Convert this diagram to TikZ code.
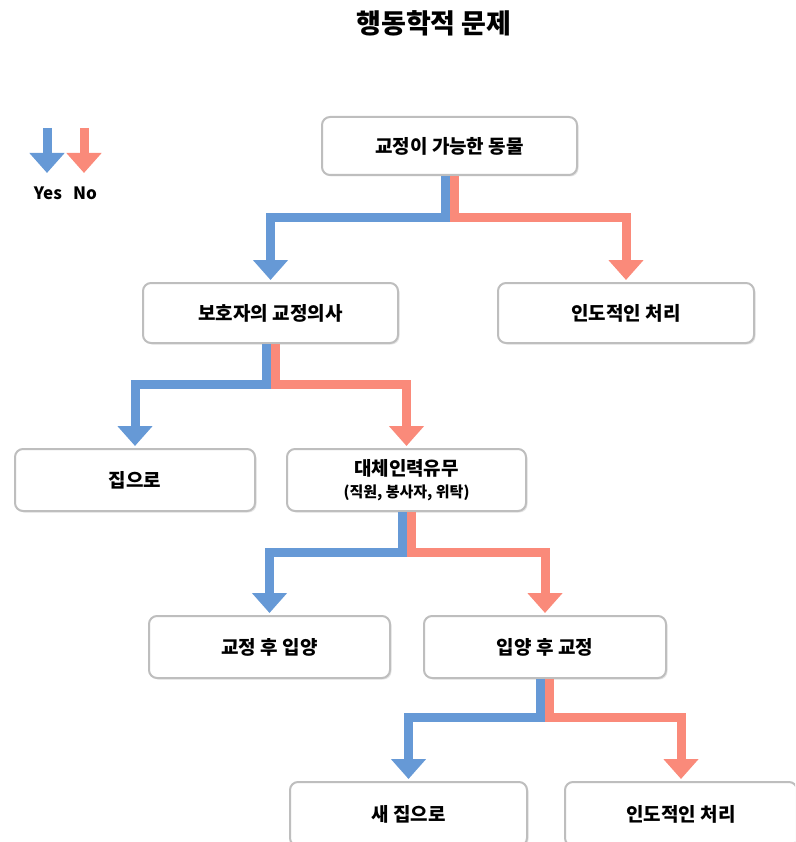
\documentclass[tikz,border=0pt]{standalone}
\usepackage{fontspec}
\setmainfont{Noto Sans CJK KR}
\usetikzlibrary{arrows.meta,shadows}
\definecolor{yesblue}{RGB}{102,153,214}
\definecolor{nored}{RGB}{250,138,122}
\definecolor{boxgray}{RGB}{190,190,190}
\begin{document}
\begin{tikzpicture}[x=1pt,y=-1pt,
  box/.style={draw=boxgray,line width=2pt,rounded corners=8pt,fill=white,
    drop shadow={shadow xshift=1.5pt,shadow yshift=-1.5pt,opacity=.2},
    font=\fontsize{19}{22}\selectfont\bfseries,align=center,inner sep=0pt},
  yesarrow/.style={draw=yesblue,line width=9pt,-{Triangle[width=34pt,length=20pt]},shorten >=2pt},
  noarrow/.style={yesarrow,draw=nored}]
\useasboundingbox (0,0) rectangle (795,842);
\clip (0,0) rectangle (795,842);
\node[font=\fontsize{27}{30}\selectfont\bfseries] (title) at (434,23) {행동학적 문제};
% legend
\coordinate (yestop) at (47,128);
\coordinate (yestip) at (47,173);
\coordinate (notop) at (84,128);
\coordinate (notip) at (84,173);
\draw[yesarrow,shorten >=0pt] (yestop) -- (yestip);
\draw[noarrow,shorten >=0pt] (notop) -- (notip);
\node[font=\fontsize{17}{19}\selectfont\bfseries] (yes) at (48,193) {Yes};
\node[font=\fontsize{17}{19}\selectfont\bfseries] (no) at (85,193) {No};
% boxes
\node[box,minimum width=255,minimum height=58] (a) at (449.5,146) {교정이 가능한 동물};
\node[box,minimum width=255,minimum height=60] (b) at (270.5,313) {보호자의 교정의사};
\node[box,minimum width=256,minimum height=60] (c) at (626,313) {인도적인 처리};
\node[box,minimum width=240,minimum height=62] (d) at (135,480) {집으로};
\node[box,minimum width=239,minimum height=62] (e) at (406.5,480)
  {대체인력유무\\[0pt]{\fontsize{15}{17}\selectfont(직원, 봉사자, 위탁)}};
\node[box,minimum width=241,minimum height=62] (f) at (269.5,647) {교정 후 입양};
\node[box,minimum width=242,minimum height=62] (g) at (545,647) {입양 후 교정};
\node[box,minimum width=237,minimum height=64] (h) at (408.5,814) {새 집으로};
\node[box,minimum width=232,minimum height=64] (i) at (681,814) {인도적인 처리};
% yes / no branches
\draw[yesarrow] ([xshift=-4.5]a.south) -- ++(0,42) -| (b.north);
\draw[noarrow] ([xshift=4.5]a.south) -- ++(0,42) -| (c.north);
\draw[yesarrow] ([xshift=-4.5]b.south) -- ++(0,40) -| (d.north);
\draw[noarrow] ([xshift=4.5]b.south) -- ++(0,40) -| (e.north);
\draw[yesarrow] ([xshift=-4.5]e.south) -- ++(0,40) -| (f.north);
\draw[noarrow] ([xshift=4.5]e.south) -- ++(0,40) -| (g.north);
\draw[yesarrow] ([xshift=-4.5]g.south) -- ++(0,38) -| (h.north);
\draw[noarrow] ([xshift=4.5]g.south) -- ++(0,38) -| (i.north);
\end{tikzpicture}
\end{document}
